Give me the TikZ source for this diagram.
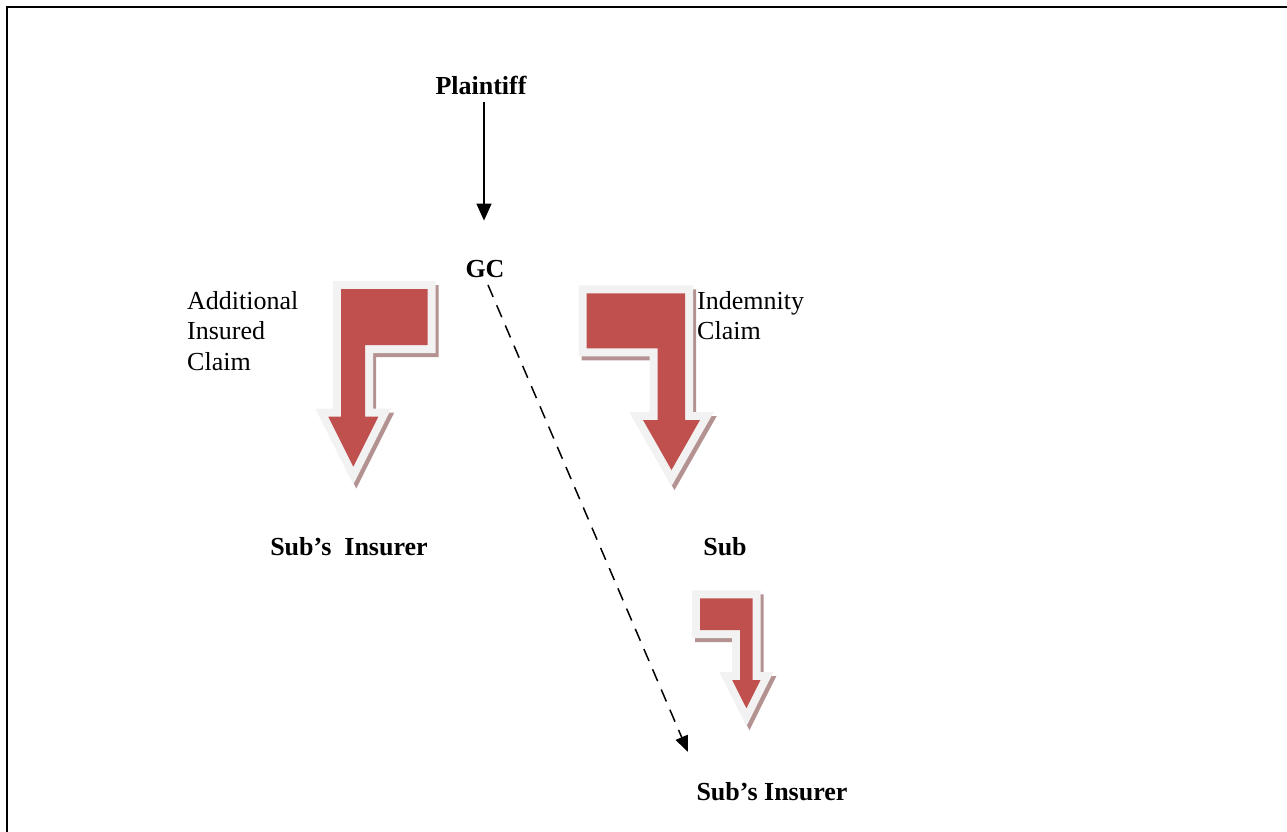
\documentclass[tikz,border=0pt]{standalone}
\usepackage{fontspec}
\setmainfont{Liberation Serif}
\usetikzlibrary{arrows.meta}
\definecolor{redc}{HTML}{C0504D}
\definecolor{outc}{HTML}{F2F2F2}
\definecolor{shadowc}{RGB}{180,146,146}
\tikzset{
  bentshadow/.style={draw=shadowc, fill=shadowc, line width=16pt, line join=miter, shift={(3,4)}},
  bentline/.style={draw=outc, fill=outc, line width=16pt, line join=miter},
  bentfill/.style={fill=redc},
  lbl/.style={inner sep=0pt, font=\fontsize{26}{30.5}\selectfont},
  blbl/.style={lbl, font=\fontsize{26}{30.5}\selectfont\bfseries},
  conn/.style={line width=1.5pt, -{Triangle[length=17pt,width=15pt]}},
  dconn/.style={line width=1.5pt, dash pattern=on 13pt off 9pt, -{Triangle[length=16pt,width=13pt]}}
}
\newcommand{\leftarrowpath}{(341,289) -- (427.7,289) -- (427.7,345) -- (365,345) -- (365,416.7) -- (378.3,416.7) -- (353.3,466.7) -- (328.3,416.7) -- (341,416.7) -- cycle}
\newcommand{\rightarrowpath}{(586.7,293.3) -- (685,293.3) -- (685,420) -- (700,420) -- (671.5,470) -- (643,420) -- (657.7,420) -- (657.7,348.3) -- (586.7,348.3) -- cycle}
\newcommand{\smallarrowpath}{(700,598.3) -- (752.7,598.3) -- (752.7,680) -- (760.5,680) -- (746.4,708.3) -- (732.2,680) -- (740,680) -- (740,630) -- (700,630) -- cycle}
\begin{document}
\begin{tikzpicture}[x=1pt,y=-1pt]
\useasboundingbox (0,0) rectangle (1287,832);
% frame
\draw[line width=2pt] (7,833) -- (7,7) -- (1288,7);
% bent arrows
\foreach \p in {\leftarrowpath,\rightarrowpath,\smallarrowpath}{
  \path[bentshadow] \p;
}
\foreach \p in {\leftarrowpath,\rightarrowpath,\smallarrowpath}{
  \path[bentline] \p;
  \path[bentfill] \p;
}
% labels
\node[blbl, anchor=base] (plaintiff) at (481,95) {Plaintiff};
\node[blbl, anchor=base] (gc) at (485,277) {GC};
\node[lbl, anchor=north west, align=left] (aic) at (187,291) {Additional\\Insured\\Claim};
\node[lbl, anchor=north west, align=left] (ic) at (697,291) {Indemnity\\Claim};
\node[blbl, anchor=base] (subins1) at (349,555) {Sub’s\ \ Insurer};
\node[blbl, anchor=base] (sub) at (725,555) {Sub};
\node[blbl, anchor=base] (subins2) at (772,800) {Sub’s Insurer};
% connectors
\draw[conn] ([xshift=3pt,yshift=-7pt]plaintiff.south) -- ([xshift=-1pt,yshift=39pt]gc.north);
\coordinate (dstart) at (488,285);
\coordinate (dend) at (688,752);
\draw[dconn] (dstart) -- (dend);
\end{tikzpicture}
\end{document}
